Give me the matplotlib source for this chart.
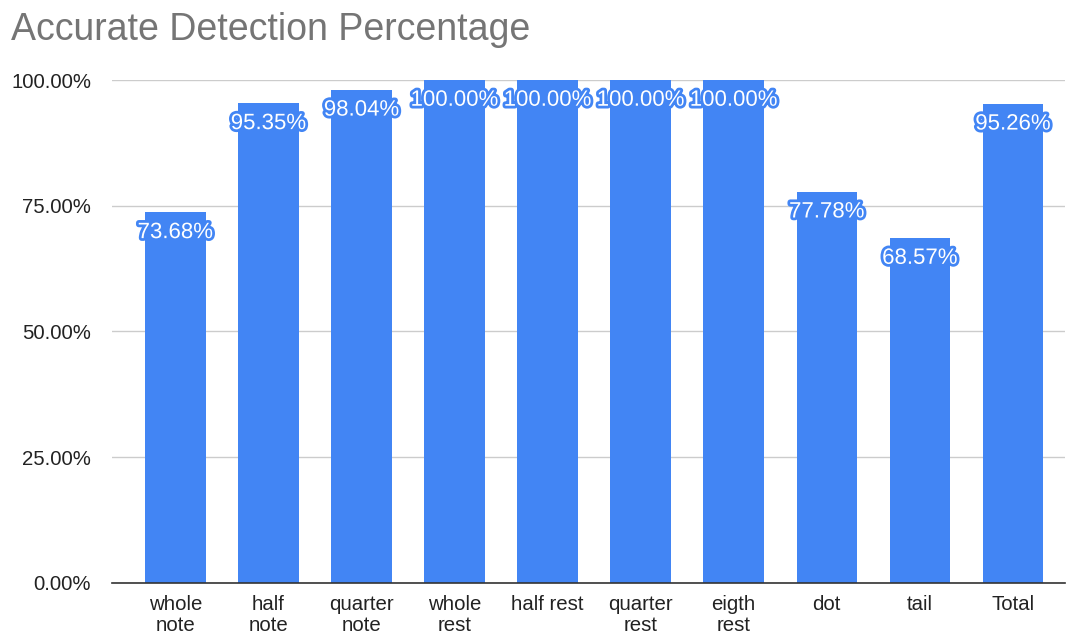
import matplotlib.pyplot as plt
import matplotlib.patheffects as pe
from matplotlib.ticker import FuncFormatter

# Dados do gráfico
categorias = ['whole\nnote', 'half\nnote', 'quarter\nnote', 'whole\nrest', 'half rest',
              'quarter\nrest', 'eigth\nrest', 'dot', 'tail', 'Total']
valores = [73.68, 95.35, 98.04, 100.00, 100.00, 100.00, 100.00, 77.78, 68.57, 95.26]
yticks = [0, 25, 50, 75, 100]

azul = '#4285F4'
plt.rcParams['font.family'] = ['Liberation Sans', 'DejaVu Sans']

fig = plt.figure(figsize=(10.72, 6.37), dpi=100)
ax = fig.add_axes([0.1045, 0.0848, 0.889, 0.7896])

# Barras
x = list(range(len(categorias)))
ax.bar(x, valores, width=0.65, color=azul, zorder=3)

# Rótulos de dados com contorno azul
for xi, v in zip(x, valores):
    ax.annotate(f'{v:.2f}%', (xi, v), xytext=(0, -7), textcoords='offset points',
                ha='center', va='top', fontsize=16, color='white', zorder=4,
                path_effects=[pe.Stroke(linewidth=4, foreground=azul), pe.Normal()])

# Eixos
ax.set_xlim(-0.68, 9.56)
ax.set_ylim(0, 100)
ax.set_yticks(yticks)
ax.yaxis.set_major_formatter(FuncFormatter(lambda v, p: f'{v:.2f}%'))
ax.set_xticks(x)
ax.set_xticklabels(categorias, linespacing=1.1)
ax.tick_params(axis='both', length=0, labelsize=14.7, colors='#222222')
ax.tick_params(axis='x', pad=9)
ax.tick_params(axis='y', pad=15)
ax.grid(axis='y', color='#cccccc', linewidth=1, zorder=0)
for s in ['top', 'right', 'left']:
    ax.spines[s].set_visible(False)
ax.spines['bottom'].set_color('#333333')
ax.spines['bottom'].set_linewidth(1.2)
ax.spines['bottom'].set_zorder(5)

# Titulo
fig.text(0.010, 0.925, 'Accurate Detection Percentage', fontsize=27, color='#757575',
         ha='left', va='bottom')

fig.savefig('out.png', dpi=100)
